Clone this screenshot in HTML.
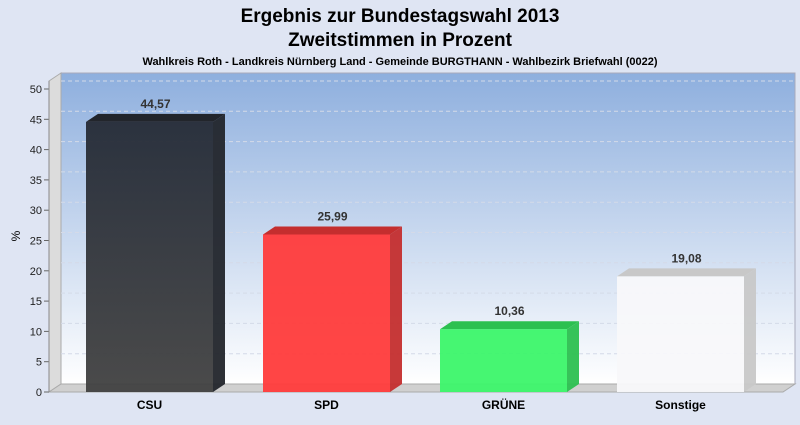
<!DOCTYPE html>
<html><head><meta charset="utf-8"><style>
body{margin:0;width:800px;height:420px;background:#dfe5f3;font-family:"Liberation Sans",sans-serif;overflow:hidden}
</style></head><body>
<svg width="800" height="420" xmlns="http://www.w3.org/2000/svg">
<defs>
<linearGradient id="bg" x1="0" y1="0" x2="0" y2="1"><stop offset="0" stop-color="#8eafde"/><stop offset="1" stop-color="#ffffff"/></linearGradient>
<linearGradient id="csu" x1="0" y1="0" x2="0" y2="1"><stop offset="0" stop-color="#252b36"/><stop offset="1" stop-color="#414141"/></linearGradient>
</defs>
<text x="400" y="22" text-anchor="middle" font-size="19" font-weight="bold" fill="#000">Ergebnis zur Bundestagswahl 2013</text>
<text x="400" y="46" text-anchor="middle" font-size="19" font-weight="bold" fill="#000">Zweitstimmen in Prozent</text>
<text x="400" y="65" text-anchor="middle" font-size="11" font-weight="bold" fill="#000">Wahlkreis Roth - Landkreis Nürnberg Land - Gemeinde BURGTHANN - Wahlbezirk Briefwahl (0022)</text>
<polygon points="61,73 795,73 795,384 61,384" fill="url(#bg)" stroke="#aab"/>
<polygon points="49,81 61,73 61,384 49,392" fill="#dcdcdc" stroke="#aaa"/>
<polygon points="49,392 61,384 795,384 783,392" fill="#d0d0d0" stroke="#aaa"/>
<g id="grid"></g><g id="axis"></g><g id="bars"></g>
<text x="20" y="236" transform="rotate(-90 20 236)" text-anchor="middle" font-size="12">%</text>
<script>
const categories=["CSU","SPD","GRÜNE","Sonstige"];
const values=[44.57,25.99,10.36,19.08];
const labels=["44,57","25,99","10,36","19,08"];
const colors=["url(#csu)","#ff3b3b","#3cf56a","#f8f8fa"];
const sideColors=["#22252b","#c42e2e","#2cc050","#c8c8c8"];
const ticks=[0,5,10,15,20,25,30,35,40,45,50];
const ns="http://www.w3.org/2000/svg";
const y=v=>392-v*(392-89)/50;
const DX=12,DY=-8;
function mk(t,a,p){const e=document.createElementNS(ns,t);for(const k in a)e.setAttribute(k,a[k]);p.appendChild(e);return e;}
const G=document.getElementById('grid'),A=document.getElementById('axis'),B=document.getElementById('bars');
ticks.forEach(t=>{
 if(t>0){const l=mk('line',{x1:61,x2:795,y1:y(t)+DY,y2:y(t)+DY,stroke:'#d4dae8','stroke-dasharray':'4,3'},G);
 
 }
 const tk=mk('line',{x1:44,x2:49,y1:y(t),y2:y(t),stroke:'#666'},A);
 
 
 const tx=mk('text',{x:42,y:y(t)+4,'text-anchor':'end','font-size':11,fill:'#222'},A);tx.textContent=t;
 
 
});
const ax=mk('line',{x1:49,x2:49,y1:81,y2:392,stroke:'#888'},A);


const slot=177,x0=86,w=127;
categories.forEach((c,i)=>{
 const xl=x0+i*slot,xr=xl+w,yt=y(values[i]),yb=392;
 const g=mk('g',{},B);
 
 
 mk('polygon',{points:`${xr},${yt} ${xr+DX},${yt+DY} ${xr+DX},${yb+DY} ${xr},${yb}`,fill:sideColors[i],opacity:.95},g);
 mk('polygon',{points:`${xl},${yt} ${xl+DX},${yt+DY} ${xr+DX},${yt+DY} ${xr},${yt}`,fill:sideColors[i]},g);
 mk('rect',{x:xl,y:yt,width:w,height:yb-yt,fill:colors[i],opacity:.95},g);
 const v=mk('text',{x:xl+w/2+DX/2,y:yt+DY-6,'text-anchor':'middle','font-size':12,'font-weight':'bold',fill:'#333'},B);v.textContent=labels[i];
 
 
 const l=mk('text',{x:xl+w/2,y:409,'text-anchor':'middle','font-size':12,'font-weight':'bold',fill:'#000'},B);l.textContent=c;
 
 
});
</script>
</svg>
</body></html>
